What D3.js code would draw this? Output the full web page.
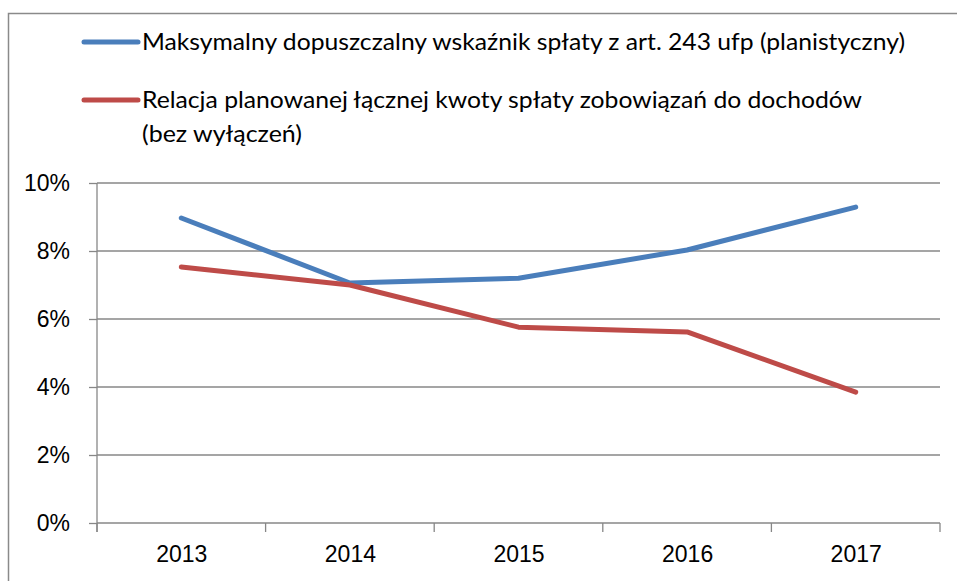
<!DOCTYPE html>
<html>
<head>
<meta charset="utf-8">
<script src="https://cdn.jsdelivr.net/npm/d3@7"></script>
<style>
  body { margin: 0; background: #fff; }
  svg { display: block; font-family: Lato, "Liberation Sans", sans-serif; }
</style>
</head>
<body>
<svg width="957" height="581"></svg>
<script>
const years = ["2013", "2014", "2015", "2016", "2017"];
const maxIndicator = [0.0897, 0.0706, 0.0720, 0.0803, 0.0929];
const debtRatio = [0.0753, 0.0700, 0.0576, 0.0562, 0.0385];
const yTicks = [0, 0.02, 0.04, 0.06, 0.08, 0.10];
const seriesNames = [
  ["Maksymalny dopuszczalny wskaźnik spłaty z art. 243 ufp (planistyczny)"],
  ["Relacja planowanej łącznej kwoty spłaty zobowiązań do dochodów", "(bez wyłączeń)"]
];
const colors = ["#4a7ebb", "#be4b48"];

const svg = d3.select("svg");
const plot = { left: 97, right: 940, top: 183, bottom: 523 };
const gridColor = "#878787";

// outer frame (only top and left edges visible)
svg.append("rect")
  .attr("x", 8.5).attr("y", 13.5)
  .attr("width", 1000).attr("height", 1000)
  .attr("fill", "none").attr("stroke", "#8a8a8a").attr("stroke-width", 1.5);

const x = d3.scalePoint().domain(years).range([plot.left, plot.right]).padding(0.5);
const xBand = d3.scaleBand().domain(years).range([plot.left, plot.right]);
const y = d3.scaleLinear().domain([0, 0.10]).range([plot.bottom, plot.top]);

// gridlines
svg.append("g").selectAll("line")
  .data(yTicks.filter(d => d > 0))
  .enter().append("line")
    .attr("x1", plot.left).attr("x2", plot.right)
    .attr("y1", d => y(d)).attr("y2", d => y(d))
    .attr("stroke", gridColor).attr("stroke-width", 1.3);

// y axis
const yAxis = svg.append("g")
  .attr("transform", "translate(" + plot.left + ",0)")
  .call(d3.axisLeft(y).tickValues(yTicks).tickFormat(d3.format(".0%")).tickSize(8).tickPadding(19));
yAxis.select(".domain").attr("stroke", gridColor).attr("stroke-width", 1.3)
  .attr("d", "M0," + plot.top + "V" + (plot.bottom + 9));
yAxis.selectAll(".tick line").attr("stroke", gridColor).attr("stroke-width", 1.3);
yAxis.selectAll(".tick text").attr("font-size", 23).attr("fill", "#000");

// x axis
const xAxis = svg.append("g")
  .attr("transform", "translate(0," + plot.bottom + ")")
  .call(d3.axisBottom(x).tickSize(0).tickPadding(23));
xAxis.select(".domain").attr("stroke", gridColor).attr("stroke-width", 1.3)
  .attr("d", "M" + plot.left + ",0H" + plot.right);
xAxis.selectAll(".tick text").attr("font-size", 23).attr("fill", "#000");
xAxis.selectAll(".sep")
  .data(years.map(d => xBand(d)).concat([plot.right]))
  .enter().append("line")
    .attr("x1", d => d).attr("x2", d => d)
    .attr("y1", 0).attr("y2", 9)
    .attr("stroke", gridColor).attr("stroke-width", 1.3);

// lines
const line = d3.line().x((d, i) => x(years[i])).y(d => y(d));
[maxIndicator, debtRatio].forEach(function(s, i) {
  svg.append("path")
    .datum(s)
    .attr("d", line)
    .attr("fill", "none")
    .attr("stroke", colors[i])
    .attr("stroke-width", 5)
    .attr("stroke-linecap", "round")
    .attr("stroke-linejoin", "round");
});

// legend
const legendY = [42, 100];
const textWidths = [[763], [720, 160]];
seriesNames.forEach(function(lines, i) {
  const g = svg.append("g");
  g.append("line")
    .attr("x1", 84).attr("x2", 138)
    .attr("y1", legendY[i]).attr("y2", legendY[i])
    .attr("stroke", colors[i]).attr("stroke-width", 5)
    .attr("stroke-linecap", "round");
  lines.forEach(function(t, j) {
    g.append("text")
      .attr("x", 142)
      .attr("y", legendY[i] + j * 34)
      .attr("dy", "0.35em")
      .attr("font-size", 23)
      .attr("textLength", textWidths[i][j])
      .attr("lengthAdjust", "spacingAndGlyphs")
      .text(t);
  });
});
</script>
</body>
</html>
